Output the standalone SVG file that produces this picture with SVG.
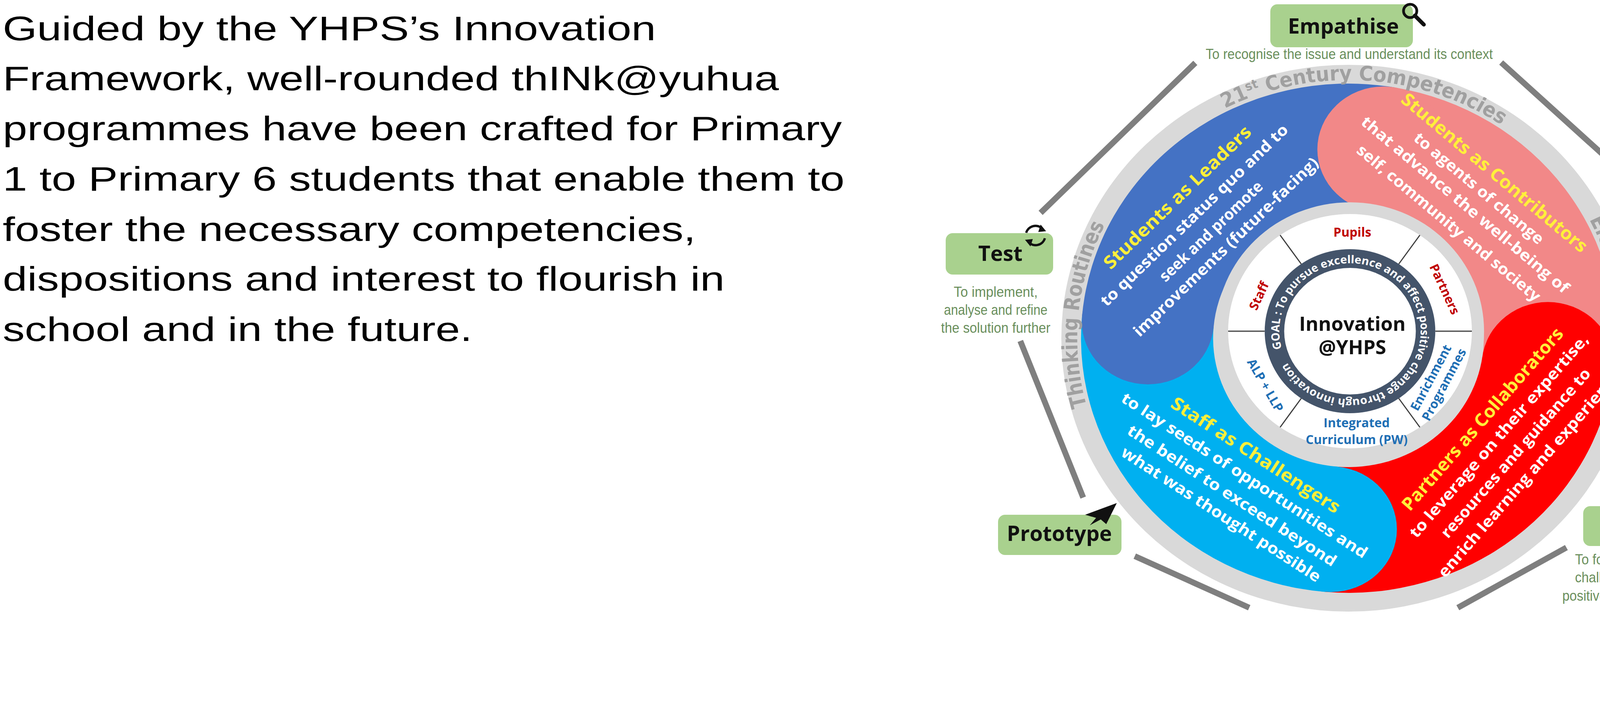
<svg xmlns="http://www.w3.org/2000/svg" width="4937" height="1800" viewBox="0 0 4937 1800">
<style>
.para{font-family:"Liberation Sans",Arial,sans-serif;font-size:88px;fill:#000}
.box{fill:#A9D18E}
.blab{font-family:"Open Sans",sans-serif;font-weight:700;font-size:54px;fill:#111;text-anchor:middle}
.desc{font-family:"Liberation Sans",Arial,sans-serif;font-size:36px;fill:#6A8F5C;text-anchor:middle}
.conn{stroke:#7F7F7F;stroke-width:15;fill:none}
.bt{font-family:"Open Sans",sans-serif;font-weight:700;fill:#fff;text-anchor:middle}
.hd{font-family:"Open Sans",sans-serif;font-weight:700;fill:#FFEF3A;text-anchor:middle}
.inl{font-family:"Open Sans",sans-serif;font-weight:700;font-size:32px;text-anchor:middle}
.band{font-family:"DejaVu Sans Condensed","DejaVu Sans",sans-serif;font-weight:700;font-size:52px;fill:#A0A0A0;text-anchor:middle}
</style>
<defs>
<path id="goal" d="M-168.1,45 A174,174 0 1 1 168.1,-45 A174,174 0 1 1 -168.1,45"/>
<path id="bandp" d="M0,661 A661,661 0 1 1 0,-661 A661,661 0 1 1 0,661"/>
</defs>
<g id="intro">
<text class="para" x="7" y="103" textLength="1672" lengthAdjust="spacingAndGlyphs">Guided by the YHPS’s Innovation</text>
<text class="para" x="7" y="231" textLength="1987" lengthAdjust="spacingAndGlyphs">Framework, well-rounded thINk@yuhua</text>
<text class="para" x="7" y="359" textLength="2148" lengthAdjust="spacingAndGlyphs">programmes have been crafted for Primary</text>
<text class="para" x="7" y="488" textLength="2155" lengthAdjust="spacingAndGlyphs">1 to Primary 6 students that enable them to</text>
<text class="para" x="7" y="617" textLength="1774" lengthAdjust="spacingAndGlyphs">foster the necessary competencies,</text>
<text class="para" x="7" y="744" textLength="1848" lengthAdjust="spacingAndGlyphs">dispositions and interest to flourish in</text>
<text class="para" x="7" y="873" textLength="1202" lengthAdjust="spacingAndGlyphs">school and in the future.</text>
</g>
<g id="connectors">
<line class="conn" x1="3060" y1="161" x2="2664" y2="545"/>
<line class="conn" x1="3843" y1="160" x2="4264" y2="541"/>
<line class="conn" x1="4308" y1="826" x2="4170" y2="1286"/>
<line class="conn" x1="4010" y1="1402" x2="3732" y2="1556"/>
<line class="conn" x1="3198" y1="1556" x2="2905" y2="1424"/>
<line class="conn" x1="2773" y1="1274" x2="2612" y2="873"/>
</g>
<g id="wheel" transform="translate(3452,866) scale(1.05,1)">
<circle r="700" fill="#D9D9D9"/>
<path fill="#F28888" d="M113.2,-642.1 A652,652 0 0 1 645.7,90.8 L326.8,45.9 A330,330 0 0 0 57.3,-325 Z"/>
<path fill="#FF0000" d="M645.7,90.8 A652,652 0 0 1 -56.9,649.5 L-28.8,328.7 A330,330 0 0 0 326.8,45.9 Z"/>
<path fill="#00B0F0" d="M-56.9,649.5 A652,652 0 0 1 -649.5,-56.9 L-328.7,-28.8 A330,330 0 0 0 -28.8,328.7 Z"/>
<path fill="#4472C4" d="M-649.5,-56.9 A652,652 0 0 1 113.2,-642.1 L57.3,-325 A330,330 0 0 0 -328.7,-28.8 Z"/>
<circle cx="85.2" cy="-483.5" r="161" fill="#F28888"/>
<circle cx="486.2" cy="68.3" r="161" fill="#FF0000"/>
<circle cx="-42.8" cy="489.1" r="161" fill="#00B0F0"/>
<circle cx="-489.1" cy="-42.8" r="161" fill="#4472C4"/>
<text class="band"><textPath href="#bandp" startOffset="26.5%">Thinking Routines</textPath></text>
<text class="band"><textPath href="#bandp" startOffset="51%">21<tspan font-size="32" dy="-18">st</tspan><tspan dy="18"> Century Competencies</tspan></textPath></text>
<text class="band"><textPath href="#bandp" startOffset="74%">Elements of Thought</textPath></text>
</g>
<g id="inner" transform="translate(3456,848) scale(1.04,1)">
<circle r="330" fill="#D9D9D9"/>
<circle r="300" fill="#fff"/>
<g stroke="#404040" stroke-width="3">
<line x1="210" y1="0" x2="300" y2="0"/>
<line x1="-210" y1="0" x2="-300" y2="0"/>
<line x1="120" y1="172" x2="172" y2="246"/>
<line x1="120" y1="-172" x2="172" y2="-246"/>
<line x1="-120" y1="172" x2="-172" y2="246"/>
<line x1="-120" y1="-172" x2="-172" y2="-246"/>
</g>
<circle r="210" fill="#44546A"/>
<circle r="162" fill="#fff"/>
<text font-family="Open Sans,sans-serif" font-weight="700" font-size="28" fill="#fff"><textPath href="#goal" textLength="1055" lengthAdjust="spacingAndGlyphs">GOAL : To pursue excellence and affect positive change through innovation</textPath></text>
</g>
<g id="core">
<text x="3462" y="847" font-family="Open Sans,sans-serif" font-weight="700" font-size="50" fill="#111" text-anchor="middle">Innovation</text>
<text x="3462" y="907" font-family="Open Sans,sans-serif" font-weight="700" font-size="50" fill="#111" text-anchor="middle">@YHPS</text>
<text class="inl" fill="#C00000" x="3462" y="606">Pupils</text>
<text class="inl" fill="#C00000" transform="translate(3697,741) rotate(65)" y="10">Partners</text>
<text class="inl" fill="#C00000" transform="translate(3224,758) rotate(-65)" y="10">Staff</text>
<text class="inl" fill="#1F6FB5" transform="translate(3238,987) rotate(60)" y="10">ALP + LLP</text>
<text class="inl" fill="#1F6FB5" x="3473" y="1094">Integrated</text>
<text class="inl" fill="#1F6FB5" x="3473" y="1137">Curriculum (PW)</text>
<g transform="translate(3680,976) rotate(-62)"><text class="inl" fill="#1F6FB5" y="-8">Enrichment</text><text class="inl" fill="#1F6FB5" y="30">Programmes</text></g>
</g>
<g id="leaders">
<g transform="translate(3014,505) rotate(-44)"><text class="hd" font-size="46" y="16" textLength="505" lengthAdjust="spacingAndGlyphs">Students as Leaders</text></g>
<g transform="translate(3057,551) rotate(-44)"><text class="bt" font-size="40" y="14" textLength="650" lengthAdjust="spacingAndGlyphs">to question status quo and to</text></g>
<g transform="translate(3100,592) rotate(-44)"><text class="bt" font-size="40" y="14" textLength="350" lengthAdjust="spacingAndGlyphs">seek and promote</text></g>
<g transform="translate(3138,632) rotate(-44)"><text class="bt" font-size="40" y="14" textLength="640" lengthAdjust="spacingAndGlyphs">improvements (future-facing)</text></g>
</g>
<g id="contributors">
<g transform="translate(3826,442) rotate(40)"><text class="hd" font-size="46" y="16" textLength="606" lengthAdjust="spacingAndGlyphs">Students as Contributors</text></g>
<g transform="translate(3786,482) rotate(40)"><text class="bt" font-size="40" y="14" textLength="420" lengthAdjust="spacingAndGlyphs">to agents of change</text></g>
<g transform="translate(3751,524) rotate(40)"><text class="bt" font-size="40" y="14" textLength="680" lengthAdjust="spacingAndGlyphs">that advance the well-being of</text></g>
<g transform="translate(3709,571) rotate(40)"><text class="bt" font-size="40" y="14" textLength="600" lengthAdjust="spacingAndGlyphs">self, community and society</text></g>
</g>
<g id="collaborators">
<g transform="translate(3795,1073) rotate(-49)"><text class="hd" font-size="46" y="16" textLength="603" lengthAdjust="spacingAndGlyphs">Partners as Collaborators</text></g>
<g transform="translate(3837,1116) rotate(-49)"><text class="bt" font-size="40" y="14" textLength="675" lengthAdjust="spacingAndGlyphs">to leverage on their expertise,</text></g>
<g transform="translate(3880,1160) rotate(-49)"><text class="bt" font-size="40" y="14" textLength="560" lengthAdjust="spacingAndGlyphs">resources and guidance to</text></g>
<g transform="translate(3923,1203) rotate(-49)"><text class="bt" font-size="40" y="14" textLength="713" lengthAdjust="spacingAndGlyphs">enrich learning and experiences</text></g>
</g>
<g id="challengers">
<g transform="translate(3215,1165) rotate(33)"><text class="hd" font-size="46" y="16" textLength="506" lengthAdjust="spacingAndGlyphs">Staff as Challengers</text></g>
<g transform="translate(3186,1217) rotate(33)"><text class="bt" font-size="40" y="14" textLength="742" lengthAdjust="spacingAndGlyphs">to lay seeds of opportunities and</text></g>
<g transform="translate(3154,1269) rotate(33)"><text class="bt" font-size="40" y="14" textLength="629" lengthAdjust="spacingAndGlyphs">the belief to exceed beyond</text></g>
<g transform="translate(3126,1317) rotate(33)"><text class="bt" font-size="40" y="14" textLength="600" lengthAdjust="spacingAndGlyphs">what was thought possible</text></g>
</g>
<g id="empathise">
<rect class="box" x="3252" y="11" width="365" height="110" rx="18"/>
<text class="blab" x="3439" y="86">Empathise</text>
<circle cx="3610" cy="28" r="17" fill="none" stroke="#111" stroke-width="7"/>
<line x1="3622" y1="40" x2="3645" y2="63" stroke="#111" stroke-width="10" stroke-linecap="round"/>
<text class="desc" x="3454" y="151" textLength="735" lengthAdjust="spacingAndGlyphs">To recognise the issue and understand its context</text>
</g>
<g id="define">
<rect class="box" x="4265" y="560" width="298" height="108" rx="18"/>
<text class="blab" x="4410" y="632">Define</text>
<g stroke="#111" stroke-width="9" stroke-linecap="round"><line x1="4522" y1="563" x2="4578" y2="563"/><line x1="4522" y1="583" x2="4578" y2="583"/><line x1="4522" y1="603" x2="4578" y2="603"/></g>
<text class="desc" x="4443" y="708" textLength="470" lengthAdjust="spacingAndGlyphs">To research, observe and create</text>
<text class="desc" x="4443" y="754" textLength="480" lengthAdjust="spacingAndGlyphs">point(s) of view to gain different</text>
<text class="desc" x="4443" y="800" textLength="370" lengthAdjust="spacingAndGlyphs">perspectives and insights</text>
<text class="desc" x="4443" y="846" textLength="170" lengthAdjust="spacingAndGlyphs">to the issue</text>
</g>
<g id="ideate">
<rect class="box" x="4053" y="1296" width="310" height="102" rx="18"/>
<text class="blab" x="4205" y="1365">Ideate</text>
<circle cx="4330" cy="1302" r="24" fill="none" stroke="#111" stroke-width="11" stroke-dasharray="9 6"/>
<circle cx="4330" cy="1302" r="20" fill="none" stroke="#111" stroke-width="10"/>
<text class="desc" x="4202" y="1445" textLength="340" lengthAdjust="spacingAndGlyphs">To formulate ideas that</text>
<text class="desc" x="4202" y="1491" textLength="340" lengthAdjust="spacingAndGlyphs">challenge and promote</text>
<text class="desc" x="4202" y="1538" textLength="405" lengthAdjust="spacingAndGlyphs">positive change and impact</text>
</g>
<g id="prototype">
<rect class="box" x="2555" y="1318" width="316" height="103" rx="18"/>
<text class="blab" x="2712" y="1385">Prototype</text>
<polygon points="2859,1288 2778,1318 2806,1326 2790,1345 2818,1330 2832,1342" fill="#111"/>
</g>
<g id="test">
<rect class="box" x="2421" y="597" width="275" height="106" rx="18"/>
<text class="blab" x="2561" y="668">Test</text>
<g fill="none" stroke="#111" stroke-width="6"><path d="M2627,596 A25,25 0 0 1 2668,585"/><path d="M2675,610 A25,25 0 0 1 2634,621"/></g>
<polygon points="2664,575 2678,592 2658,594" fill="#111"/><polygon points="2638,631 2624,614 2644,612" fill="#111"/>
<text class="desc" x="2549" y="760" textLength="215" lengthAdjust="spacingAndGlyphs">To implement,</text>
<text class="desc" x="2549" y="806" textLength="265" lengthAdjust="spacingAndGlyphs">analyse and refine</text>
<text class="desc" x="2549" y="852" textLength="280" lengthAdjust="spacingAndGlyphs">the solution further</text>
</g>
</svg>
